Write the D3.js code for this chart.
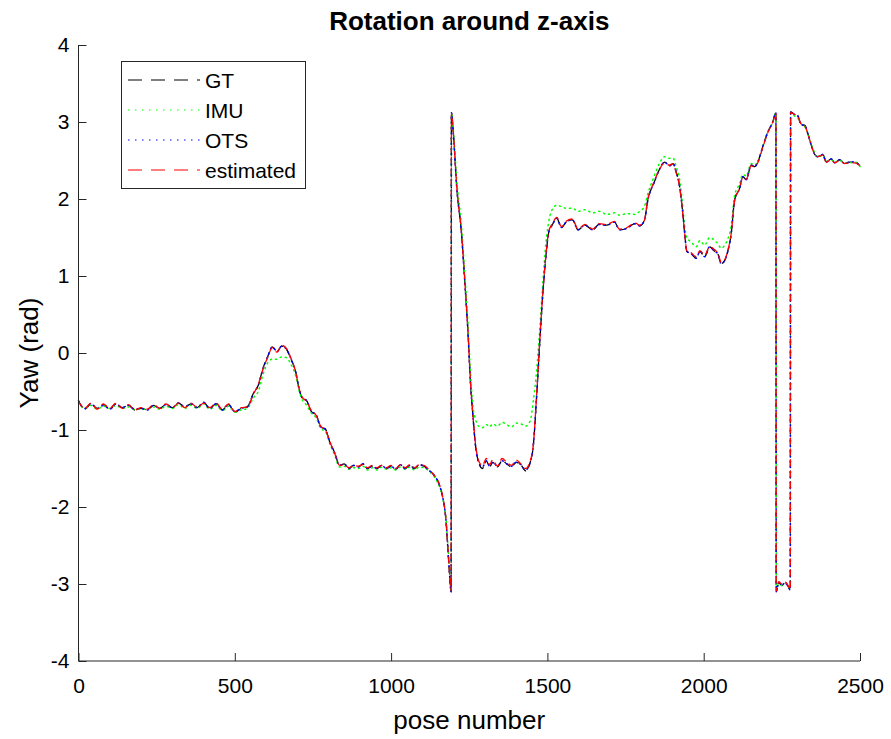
<!DOCTYPE html>
<html><head><meta charset="utf-8">
<script src="https://cdn.jsdelivr.net/npm/d3@7"></script>
<style>body{margin:0;background:#fff}svg{display:block}text{font-family:"Liberation Sans",Arial,sans-serif;fill:#000}</style>
</head><body>
<svg id="c" width="891" height="739"></svg>
<script>
const poses = [0,20,40,60,80,100,120,140,160,180,200,220,240,260,280,300,320,340,360,380,400,420,440,460,480,500,520,540,
560,575,590,605,620,635,650,665,680,695,705,715,730,745,760,775,790,805,820,
835,850,865,880,895,910,925,940,955,970,985,1000,1015,1030,1045,1060,1075,1090,1105,1120,
1140,1155,1165,1175,1185,1192,
1193,1200,1210,1225,1236,1246,1254,
1262,1270,1280,1292,1305,1315,1325,1340,1355,1370,1385,1400,1415,1430,1445,
1455,1465,1475,1485,1495,1505,1515,1530,1545,1560,1580,1598,1620,1645,1665,1690,1715,1730,1755,1780,1795,1810,
1822,1840,1858,1875,1890,1902,1912,1923,1932,1940,1946,
1960,1976,1988,2003,2019,2035,2045,2056,2067,2077,2088,2099,
2115,2125,2136,2152,2163,2173,2189,2205,2221,2231,
2232,2240,2250,2260,2270,2277,
2278,2290,2301,2312,2323,2333,2344,2355,2365,2381,2392,2408,2419,2435,2451,2467,2483,2500];

const gt = [-0.62,-0.73,-0.66,-0.72,-0.67,-0.73,-0.66,-0.71,-0.68,-0.74,-0.72,-0.74,-0.68,-0.72,-0.67,-0.71,-0.65,-0.70,-0.66,-0.71,-0.64,-0.72,-0.66,-0.74,-0.67,-0.77,-0.72,-0.70,
-0.52,-0.42,-0.20,-0.05,0.08,0.02,0.09,0.05,-0.08,-0.25,-0.45,-0.58,-0.62,-0.76,-0.80,-0.96,-0.99,-1.17,-1.30,
-1.46,-1.44,-1.50,-1.46,-1.48,-1.44,-1.50,-1.47,-1.50,-1.46,-1.50,-1.47,-1.51,-1.45,-1.50,-1.46,-1.50,-1.45,-1.47,-1.52,
-1.60,-1.72,-1.87,-2.15,-2.75,-3.10,
3.12,2.80,2.15,1.56,0.91,0.26,-0.39,
-0.83,-1.20,-1.42,-1.50,-1.40,-1.48,-1.42,-1.48,-1.40,-1.44,-1.48,-1.42,-1.45,-1.53,-1.42,
-1.20,-0.60,0.10,0.75,1.25,1.58,1.66,1.75,1.63,1.70,1.73,1.60,1.66,1.60,1.67,1.66,1.70,1.60,1.62,1.68,1.65,1.72,
2.00,2.20,2.38,2.48,2.43,2.46,2.35,2.16,1.86,1.52,1.32,
1.29,1.23,1.32,1.25,1.38,1.32,1.29,1.16,1.20,1.32,1.55,1.99,
2.14,2.29,2.25,2.44,2.42,2.48,2.68,2.87,3.00,3.12,
-3.10,-2.98,-3.02,-2.98,-3.03,-3.08,
3.13,3.10,3.08,2.96,2.96,2.85,2.70,2.58,2.55,2.58,2.48,2.52,2.47,2.51,2.46,2.48,2.48,2.43];

const imu = [-0.64,-0.72,-0.68,-0.73,-0.69,-0.72,-0.68,-0.72,-0.70,-0.73,-0.73,-0.73,-0.70,-0.73,-0.69,-0.72,-0.67,-0.72,-0.68,-0.72,-0.66,-0.73,-0.68,-0.75,-0.69,-0.77,-0.74,-0.72,
-0.58,-0.50,-0.28,-0.13,-0.08,-0.08,-0.05,-0.06,-0.15,-0.30,-0.48,-0.60,-0.68,-0.78,-0.84,-0.98,-1.02,-1.19,-1.33,
-1.48,-1.47,-1.51,-1.49,-1.50,-1.47,-1.52,-1.49,-1.52,-1.48,-1.51,-1.49,-1.52,-1.48,-1.51,-1.48,-1.52,-1.48,-1.49,-1.53,
-1.62,-1.74,-1.88,-2.12,-2.70,-3.08,
3.10,2.85,2.25,1.66,1.02,0.38,-0.25,
-0.70,-0.86,-0.95,-0.97,-0.93,-0.96,-0.92,-0.95,-0.90,-0.93,-0.96,-0.91,-0.92,-0.95,-0.88,
-0.62,-0.25,0.28,0.88,1.42,1.72,1.86,1.92,1.90,1.88,1.88,1.84,1.86,1.82,1.84,1.80,1.82,1.79,1.81,1.80,1.84,1.90,
2.08,2.28,2.46,2.55,2.53,2.53,2.42,2.25,1.95,1.62,1.50,
1.44,1.38,1.46,1.40,1.50,1.46,1.42,1.36,1.40,1.48,1.65,2.05,
2.20,2.32,2.30,2.46,2.44,2.49,2.68,2.86,3.00,3.11,
-3.08,-3.00,-3.02,-2.99,-3.03,-3.07,
3.12,3.08,3.05,2.98,2.94,2.86,2.72,2.60,2.54,2.57,2.49,2.51,2.48,2.50,2.47,2.47,2.48,2.42];

const ots = [-0.62,-0.72,-0.66,-0.72,-0.68,-0.73,-0.66,-0.71,-0.68,-0.73,-0.72,-0.74,-0.68,-0.72,-0.67,-0.71,-0.65,-0.70,-0.66,-0.71,-0.64,-0.72,-0.66,-0.74,-0.67,-0.76,-0.72,-0.70,
-0.52,-0.42,-0.21,-0.05,0.08,0.02,0.09,0.05,-0.08,-0.25,-0.45,-0.58,-0.62,-0.76,-0.80,-0.96,-0.99,-1.17,-1.30,
-1.46,-1.44,-1.50,-1.46,-1.48,-1.44,-1.50,-1.47,-1.50,-1.46,-1.50,-1.47,-1.51,-1.45,-1.50,-1.46,-1.50,-1.45,-1.47,-1.52,
-1.60,-1.72,-1.87,-2.15,-2.75,-3.10,
3.12,2.80,2.15,1.56,0.91,0.26,-0.39,
-0.83,-1.20,-1.42,-1.48,-1.40,-1.47,-1.42,-1.47,-1.40,-1.44,-1.47,-1.42,-1.45,-1.52,-1.42,
-1.20,-0.60,0.10,0.75,1.25,1.58,1.66,1.75,1.63,1.70,1.73,1.60,1.66,1.60,1.67,1.66,1.70,1.60,1.62,1.68,1.65,1.72,
2.00,2.20,2.38,2.48,2.43,2.46,2.35,2.16,1.86,1.52,1.32,
1.29,1.23,1.32,1.25,1.38,1.32,1.29,1.16,1.20,1.32,1.55,1.99,
2.14,2.29,2.25,2.44,2.42,2.48,2.68,2.87,3.00,3.12,
-3.10,-2.98,-3.02,-2.98,-3.03,-3.08,
3.13,3.10,3.08,2.96,2.96,2.85,2.70,2.58,2.55,2.58,2.48,2.52,2.47,2.51,2.46,2.48,2.48,2.43];

const est = [-0.63,-0.72,-0.65,-0.73,-0.66,-0.72,-0.65,-0.72,-0.67,-0.74,-0.71,-0.73,-0.67,-0.72,-0.66,-0.71,-0.65,-0.71,-0.65,-0.71,-0.65,-0.71,-0.65,-0.73,-0.66,-0.76,-0.71,-0.70,
-0.53,-0.41,-0.21,-0.06,0.07,0.01,0.10,0.06,-0.07,-0.25,-0.45,-0.57,-0.63,-0.75,-0.81,-0.95,-1.00,-1.16,-1.31,
-1.46,-1.45,-1.49,-1.46,-1.47,-1.45,-1.49,-1.46,-1.49,-1.46,-1.49,-1.46,-1.50,-1.45,-1.49,-1.45,-1.49,-1.45,-1.46,-1.51,
-1.60,-1.71,-1.87,-2.14,-2.74,-3.09,
3.11,2.81,2.16,1.57,0.92,0.27,-0.38,
-0.82,-1.18,-1.40,-1.46,-1.37,-1.45,-1.39,-1.47,-1.37,-1.42,-1.46,-1.39,-1.44,-1.50,-1.40,
-1.19,-0.58,0.12,0.76,1.26,1.59,1.67,1.76,1.64,1.71,1.74,1.61,1.67,1.61,1.68,1.67,1.71,1.61,1.63,1.69,1.66,1.72,
2.01,2.21,2.38,2.47,2.44,2.46,2.34,2.16,1.85,1.52,1.33,
1.30,1.25,1.33,1.27,1.38,1.34,1.30,1.18,1.21,1.33,1.55,1.98,
2.14,2.28,2.26,2.43,2.42,2.47,2.67,2.86,3.00,3.11,
-3.09,-2.97,-3.00,-2.97,-3.02,-3.07,
3.12,3.10,3.07,2.97,2.95,2.85,2.70,2.58,2.55,2.57,2.48,2.51,2.47,2.50,2.46,2.47,2.47,2.43];

const xTicks = [0,500,1000,1500,2000,2500];
const yTicks = [-4,-3,-2,-1,0,1,2,3,4];
const seriesNames = ["GT","IMU","OTS","estimated"];
const seriesColors = ["#000000","#00ff00","#0000ff","#ff0000"];
const seriesDash = ["7,4","1.2,4","1.2,4","7,4"];
const legendDash = ["14,9","1.5,5.5","1.5,5.5","14,9"];
const titleText = "Rotation around z-axis";
const xLabel = "pose number";
const yLabel = "Yaw (rad)";

const svg = d3.select("#c");
const L = 78.5, R = 860, T = 45, B = 661;
const x = d3.scaleLinear().domain([0,2500]).range([L,R]);
const y = d3.scaleLinear().domain([-4,4]).range([B,T]);
const axisColor = "#262626";

// series
const allSeries = [gt, imu, ots, est];
const line = d3.line().x((d,i)=>x(poses[i])).y(d=>y(d)).curve(d3.curveMonotoneX);
const g = svg.append("g");
allSeries.forEach((s,k)=>{
  if (s.length !== poses.length) console.error("length mismatch", seriesNames[k], s.length, poses.length);
  g.append("path").attr("d", line(s)).attr("fill","none")
    .attr("stroke", seriesColors[k]).attr("stroke-width", k===1||k===2 ? 1.5 : 1.3)
    .attr("stroke-dasharray", seriesDash[k]).attr("stroke-linecap", k===1||k===2 ? "round":"butt");
});

// axes
const xa = svg.append("g").attr("transform",`translate(0,${B})`)
  .call(d3.axisBottom(x).tickValues(xTicks).tickSize(-8).tickPadding(17).tickFormat(d3.format("d")));
const ya = svg.append("g").attr("transform",`translate(${L},0)`)
  .call(d3.axisLeft(y).tickValues(yTicks).tickSize(-8).tickPadding(9).tickFormat(d=>d<0?"-"+Math.abs(d):d));
[xa,ya].forEach(a=>{
  a.select(".domain").attr("stroke",axisColor).attr("stroke-width",1);
  a.selectAll(".tick line").attr("stroke",axisColor).attr("stroke-width",1);
  a.selectAll(".tick text").attr("font-size",21).attr("fill","#262626").attr("font-family",'"Liberation Sans",Arial,sans-serif');
});
xa.select(".domain").attr("d",`M${L},0H${R}`);
ya.select(".domain").attr("d",`M0,${B}V${T}`);

// labels
svg.append("text").attr("x",(L+R)/2).attr("y",729).attr("text-anchor","middle")
  .attr("font-size",26).attr("fill","#262626").text(xLabel);
svg.append("text").attr("transform",`translate(38,${(T+B)/2}) rotate(-90)`).attr("text-anchor","middle")
  .attr("font-size",26).attr("fill","#262626").text(yLabel);
svg.append("text").attr("x",(L+R)/2).attr("y",30).attr("text-anchor","middle")
  .attr("font-size",26).attr("font-weight","bold").text(titleText);

// legend
const lg = svg.append("g");
lg.append("rect").attr("x",121.5).attr("y",61.5).attr("width",184).attr("height",127)
  .attr("fill","#fff").attr("stroke",axisColor).attr("stroke-width",1);
const rowsY = [80,110,140,170];
seriesNames.forEach((n,k)=>{
  lg.append("line").attr("x1",128).attr("x2",200).attr("y1",rowsY[k]).attr("y2",rowsY[k])
    .attr("stroke",seriesColors[k]).attr("stroke-width",1.2).attr("stroke-dasharray",legendDash[k]);
  lg.append("text").attr("x",205).attr("y",rowsY[k]+7.5).attr("font-size",21).attr("fill","#000").text(n);
});
</script>
</body></html>
